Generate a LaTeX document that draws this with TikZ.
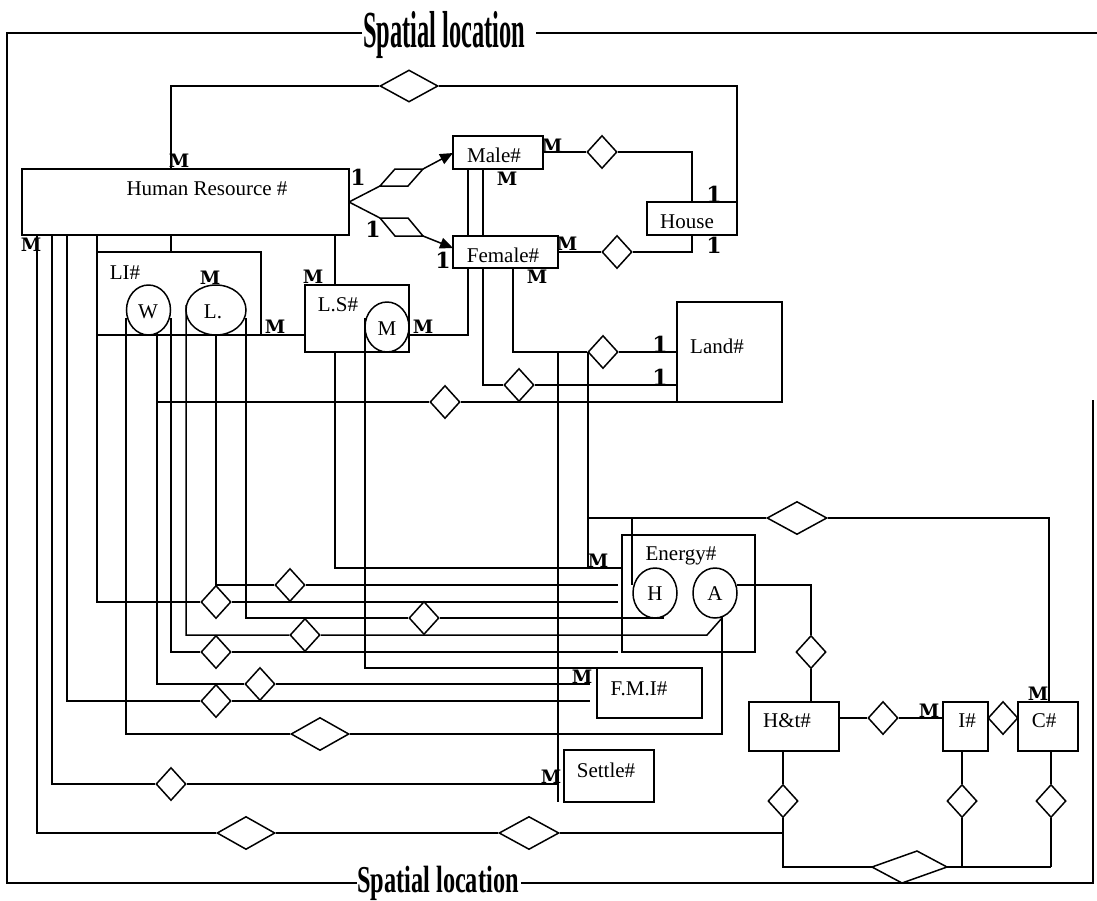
\documentclass[tikz,border=0pt]{standalone}
\usepackage{fontspec}
\setmainfont{Liberation Serif}
\newfontfamily\lblfont{DejaVu Serif}
\usepackage{graphicx}
\usetikzlibrary{shapes.geometric,arrows.meta,backgrounds}
\tikzset{
 ln/.style={line width=1.5pt},
 ent/.style={draw,line width=1.5pt,rectangle,inner sep=0pt},
 att/.style={draw,line width=1.5pt,ellipse,inner sep=0pt,minimum width=44pt,minimum height=50pt},
 rel/.style={draw,line width=1.5pt,diamond,fill=white,inner sep=0pt,minimum width=30pt,minimum height=33pt},
 relw/.style={rel,minimum width=58pt},
 txt/.style={inner sep=0pt,anchor=base,font=\fontsize{21}{23}\selectfont},
 card/.style={inner sep=0pt,anchor=base,font=\lblfont\bfseries\fontsize{18.5}{18.5}\selectfont},
 one/.style={inner sep=0pt,anchor=base,font=\lblfont\bfseries\fontsize{22}{22}\selectfont},
 arr/.style={line width=1.5pt,-{Triangle[length=13pt,width=11pt]}},
 ttl/.style={inner sep=0pt,anchor=base west,font=\bfseries},
}
\begin{document}
\begin{tikzpicture}[x=1pt,y=-1pt]
\useasboundingbox (0,0) rectangle (1097,900);
% titles
\node[ttl] (T1) at (363,47) {\scalebox{0.47}[1]{\fontsize{52}{52}\selectfont Spatial location}};
\node[ttl] (T2) at (357,892) {\scalebox{0.64}[1]{\fontsize{38}{38}\selectfont Spatial location}};
% entities
\node[ent,minimum width=327pt,minimum height=66pt] (HR) at (185.5,202) {};
\node[ent,minimum width=90pt,minimum height=33pt] (Male) at (498,152.5) {};
\node[ent,minimum width=105pt,minimum height=32pt] (Female) at (505.5,252) {};
\node[ent,minimum width=90pt,minimum height=33pt] (House) at (692,218.5) {};
\node[ent,minimum width=105pt,minimum height=100pt] (Land) at (729.5,352) {};
\node[ent,minimum width=164pt,minimum height=83pt] (LI) at (179,293.5) {};
\node[ent,minimum width=104pt,minimum height=67pt] (LS) at (357,318.5) {};
\node[ent,minimum width=133pt,minimum height=117pt] (Energy) at (688.5,593.5) {};
\node[ent,minimum width=105pt,minimum height=50pt] (FMI) at (649.5,693) {};
\node[ent,minimum width=90pt,minimum height=52pt] (Settle) at (609,776) {};
\node[ent,minimum width=90pt,minimum height=49pt] (Ht) at (794,726.5) {};
\node[ent,minimum width=45pt,minimum height=49pt] (I) at (965.5,726.5) {};
\node[ent,minimum width=60pt,minimum height=49pt] (C) at (1048,726.5) {};
% attributes
\node[att] (W) at (148.5,310) {};
\node[att,minimum width=60pt] (L) at (216,310) {};
\node[att] (Mc) at (387,327) {};
\node[att] (H) at (655,593) {};
\node[att] (A) at (715,593) {};
% texts
\node[txt] (tHR) at (207,195) {Human Resource \#};
\node[txt] (tMale) at (494,162) {Male\#};
\node[txt] (tFemale) at (503,262) {Female\#};
\node[txt] (tHouse) at (687,228) {House};
\node[txt] (tLand) at (717,353) {Land\#};
\node[txt] (tLI) at (125,279) {LI\#};
\node[txt] (tLS) at (338,311) {L.S\#};
\node[txt] (tEnergy) at (681,560) {Energy\#};
\node[txt] (tFMI) at (639,695) {F.M.I\#};
\node[txt] (tSettle) at (606,777) {Settle\#};
\node[txt] (tHt) at (787,727) {H\&t\#};
\node[txt] (tI) at (967,727) {I\#};
\node[txt] (tC) at (1044,727) {C\#};
\node[txt] (tW) at (148,318) {W};
\node[txt] (tL) at (213,318) {L.};
\node[txt] (tM) at (387,335) {M};
\node[txt] (tH) at (655,600) {H};
\node[txt] (tA) at (715,600) {A};
% relationships
\node[relw,minimum height=32pt] (dTop) at (409,86) {};
\node[rel] (dMH) at (602,152) {};
\node[rel] (dFH) at (617,252) {};
\node[rel] (dFL1) at (603,352) {};
\node[rel] (dFL2) at (519,385) {};
\node[rel] (dLand) at (445,402) {};
\node[rel] (dE1) at (290,585) {};
\node[rel] (dE2) at (216,602) {};
\node[rel] (dH1) at (424,618) {};
\node[rel] (dA1) at (305,635) {};
\node[rel] (dE4) at (216,652) {};
\node[rel] (dF2) at (260,684) {};
\node[rel] (dF3) at (216,701) {};
\node[relw] (dA2) at (320,734) {};
\node[rel] (dSet) at (171,784) {};
\node[relw] (dB1) at (246,833) {};
\node[relw,minimum width=60pt] (dB2) at (529,833) {};
\node[relw,minimum width=60pt] (dEC) at (797,518) {};
\node[rel] (dAH) at (811,652) {};
\node[rel] (dHI) at (883,718) {};
\node[rel] (dIC) at (1003,718) {};
\node[rel] (dHb) at (783,801) {};
\node[rel] (dIb) at (962,801) {};
\node[rel] (dCb) at (1051,801) {};
% skewed bottom relationship
\draw[ln,fill=white] (872,867) -- (917,851) -- (947,867) -- (902,883) -- cycle;
% HR to Male / Female relationships
\draw[ln] (380,186) -- (395,169) -- (423,169) -- (408,186) -- cycle;
\draw[ln] (380,218) -- (408,218) -- (423,236) -- (395,236) -- cycle;
% cardinalities
\node[card] at (179,167) {M};
\node[one] at (358,185) {1};
\node[one] at (373,237) {1};
\node[one] at (443,268) {1};
\node[card] at (552,152) {M};
\node[card] at (507,185) {M};
\node[one] at (714,202) {1};
\node[card] at (567,250) {M};
\node[one] at (714,253) {1};
\node[card] at (537,283) {M};
\node[one] at (660,352) {1};
\node[one] at (660,385) {1};
\node[card] at (31,251) {M};
\node[card] at (210,284) {M};
\node[card] at (313,283) {M};
\node[card] at (275,333) {M};
\node[card] at (423,333) {M};
\node[card] at (598,567) {M};
\node[card] at (582,683) {M};
\node[card] at (551,783) {M};
\node[card] at (929,717) {M};
\node[card] at (1038,700) {M};
\begin{scope}[on background layer]
% frame
\draw[ln] (362,33) -- (7,33) -- (7,883) -- (357,883);
\draw[ln] (536,33) -- (1097,33);
\draw[ln] (521,883) -- (1093,883) -- (1093,400);
% top relation HR - House
\draw[ln] (171,169) -- (171,86) -- (dTop) -- (737,86) -- (737,202);
% HR - Male / Female
\draw[ln] (349,202) -- (380,186);
\draw[ln] (349,202) -- (380,218);
\draw[arr] (423,169) -- (453,153);
\draw[arr] (423,236) -- (453,248);
% Male / Female - House
\draw[ln] (543,152) -- (dMH) -- (692,152) -- (692,202);
\draw[ln] (558,252) -- (dFH) -- (692,252) -- (692,235);
\draw[ln] (468,169) -- (468,236);
\draw[ln] (483,169) -- (483,236);
% Female - L.S / Land
\draw[ln] (468,268) -- (468,335) -- (409,335);
\draw[ln] (483,268) -- (483,385) -- (dFL2) -- (677,385);
\draw[ln] (513,268) -- (513,352) -- (dFL1) -- (677,352);
\draw[ln] (588,352) -- (588,568);
\draw[ln] (558,352) -- (558,802);
% HR - LI / L.S
\draw[ln] (171,235) -- (171,252);
\draw[ln] (335,235) -- (335,285);
\draw[ln] (261,335) -- (305,335);
% HR bottom bundle
\draw[ln] (37,235) -- (37,833) -- (dB1) -- (dB2) -- (783,833);
\draw[ln] (52,235) -- (52,784) -- (dSet) -- (558,784);
\draw[ln] (67,235) -- (67,701) -- (dF3) -- (590,701);
\draw[ln] (97,235) -- (97,602) -- (dE2) -- (618,602);
% W attribute
\draw[ln] (126,318) -- (126,734) -- (dA2) -- (722,734) -- (722,617);
\draw[ln] (157,333) -- (157,684) -- (dF2) -- (590,684);
\draw[ln] (157,402) -- (dLand) -- (677,402);
\draw[ln] (171,318) -- (171,652) -- (dE4) -- (618,652);
% L. attribute
\draw[ln] (186,305) -- (186,635) -- (dA1) -- (707,635) -- (722,618);
\draw[ln] (216,335) -- (216,585) -- (dE1) -- (618,585);
\draw[ln] (246,318) -- (246,618) -- (dH1) -- (663,618) -- (663,616);
% L.S
\draw[ln] (335,352) -- (335,568) -- (622,568);
\draw[ln] (365,318) -- (365,668) -- (597,668);
% Energy - C#
\draw[ln] (588,518) -- (dEC) -- (1049,518) -- (1049,702);
\draw[ln] (632,518) -- (632,585);
% A - H&t
\draw[ln] (737,585) -- (811,585) -- (dAH) -- (811,702);
\draw[ln] (839,718) -- (dHI) -- (943,718);
% bottom ternary
\draw[ln] (783,751) -- (dHb) -- (783,867) -- (1051,867);
\draw[ln] (962,751) -- (dIb) -- (962,867);
\draw[ln] (1051,751) -- (dCb) -- (1051,867);
\end{scope}
\end{tikzpicture}
\end{document}
